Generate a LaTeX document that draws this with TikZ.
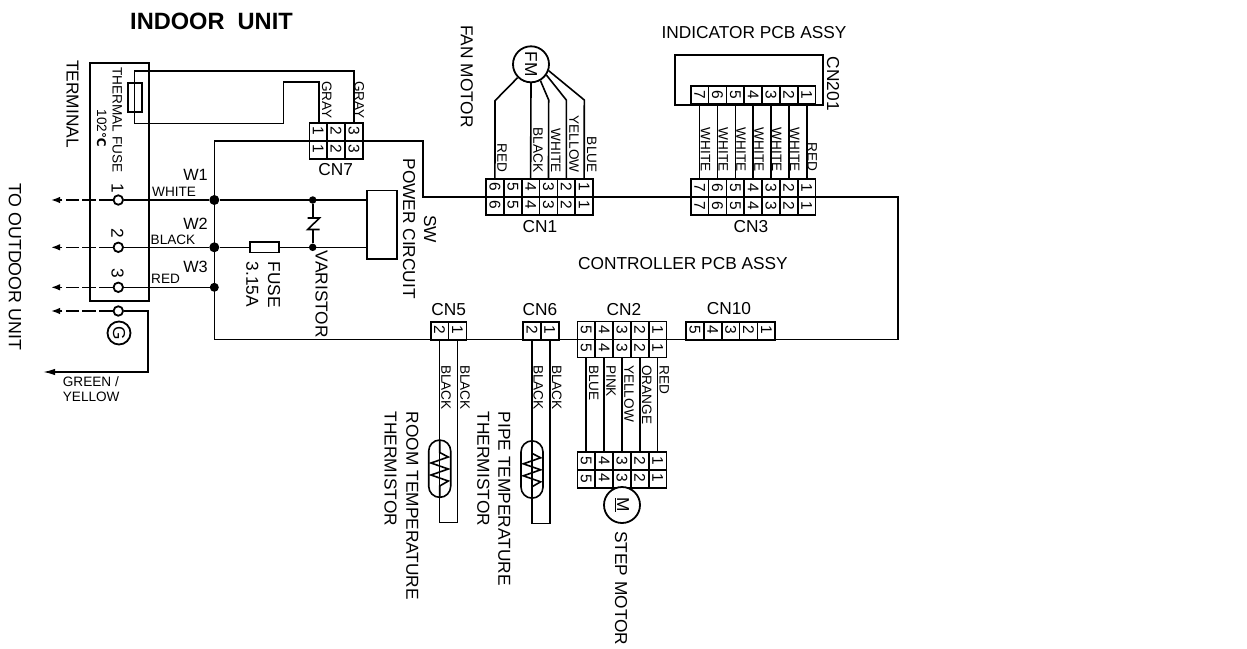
\documentclass[tikz,border=0pt]{standalone}
\usepackage{graphicx}
\usepackage{fontspec}
\setmainfont{Liberation Sans}
\newfontfamily\dejavu{DejaVu Sans}
\usetikzlibrary{arrows.meta}
\tikzset{
 wire/.style={line width=1.6pt,line join=miter},
 dashwire/.style={line width=1.6pt,dash pattern=on 13.5pt off 3.3pt,-{Latex[length=9pt,width=6.5pt]}},
 pincell/.style={draw,fill=white,line width=1.6pt,minimum width=17.85pt,minimum height=18pt,inner sep=0pt,font=\fontsize{15.5}{15.5}\selectfont},
 lbl/.style={inner sep=0pt,font=\fontsize{17.3}{17.3}\selectfont},
 lblv/.style={lbl,rotate=-90,anchor=west},
 small/.style={inner sep=0pt,font=\fontsize{13.6}{13.6}\selectfont},
 smallv/.style={small,rotate=-90,anchor=west},
 dot/.style={circle,fill=black,draw=none,minimum size=#1,inner sep=0pt},
 term/.style={circle,draw,fill=white,line width=1.8pt,minimum size=9.5pt,inner sep=0pt},
 ring/.style={circle,draw,fill=white,line width=1.8pt,inner sep=0pt},
 capsule/.style={draw,line width=1.6pt,rounded corners=11pt},
}
\newcommand{\rotd}[1]{\rotatebox[origin=c]{-90}{#1}}
% \pinrow{name}{x of first}{y centre}{list of digits, left to right}
\newcommand{\pinrow}[4]{%
 \foreach \d [count=\i from 0] in {#4}{
  \node[pincell] (#1\d) at ({#2+8.93+17.85*\i},#3) {\rotd{\d}};
 }}
\begin{document}
\begin{tikzpicture}[x=1pt,y=-1pt]
\useasboundingbox (0,0) rectangle (1247,648);
\fill[white] (0,0) rectangle (1247,648);
% titles
\node[inner sep=0pt,anchor=west,font=\fontsize{23.6}{23.6}\selectfont\bfseries] (title) at (130,21) {INDOOR\ \ UNIT};
\node[lblv] (tlTerm) at (72.5,60) {TERMINAL};
\node[lblv,font=\fontsize{17.8}{17.8}\selectfont] (tlOut) at (15,183) {TO OUTDOOR UNIT};
\node[smallv] (tlFuse) at (117.3,67.3) {THERMAL FUSE};
\node[smallv] (tlDeg) at (101.7,109.3) {102{\dejavu\bfseries\fontsize{12}{12}\selectfont ℃}};
% terminal block
\node[draw,line width=1.6pt,minimum width=58.7pt,minimum height=238pt,inner sep=0pt,anchor=north west] (block) at (89.3,62) {};
% board
\coordinate (b1) at (214.3,140.7);
\coordinate (b2) at (422.7,196.8);
\coordinate (b3) at (898,339.5);
\draw[wire] (b1) -| (b2) -- (b2 -| b3) -- (b3) -- (b1 |- b3) -- cycle;
% terminals
\node[term] (t1) at (118.3,200) {};
\node[term] (t2) at (118.3,247.3) {};
\node[term] (t3) at (118.3,287.3) {};
\node[term] (tg) at (118.3,311) {};
\coordinate (o1) at (51,200); \coordinate (o2) at (51,247.3);
\coordinate (o3) at (51,287.3); \coordinate (og) at (51,311);
\draw[dashwire] (t1) -- (o1);
\draw[dashwire] (t2) -- (o2);
\draw[dashwire] (t3) -- (o3);
\draw[dashwire] (tg) -- (og);
\node[ring,minimum size=23pt,lbl] (gnd) at (119,333) {\rotd{G}};
\coordinate (gc) at (148,372); \coordinate (gend) at (43,372);
\draw[wire,-{Latex[length=12pt,width=6.5pt]}] (tg) -| (gc) -- (gend);
\node[dot=10pt] (w1) at (214.3,200) {};
\node[dot=10pt] (w2) at (214.3,247.3) {};
\node[dot=9pt] (w3) at (214.3,287.3) {};
\draw[wire] (t1) -- (w1);
\draw[wire] (t2) -- (w2);
\draw[wire] (t3) -- (w3);
\node[lbl,anchor=east,font=\fontsize{16.3}{16.3}\selectfont] (lw1) at (208,175) {W1};
\node[lbl,anchor=east,font=\fontsize{16.3}{16.3}\selectfont] (lw2) at (208,224) {W2};
\node[lbl,anchor=east,font=\fontsize{16.3}{16.3}\selectfont] (lw3) at (208,266.7) {W3};
\node[small,anchor=west] (lwh) at (152,192) {WHITE};
\node[small,anchor=west] (lbk) at (150.5,240) {BLACK};
\node[small,anchor=west] (lrd) at (151,279.3) {RED};
\node[small,anchor=west] (lgr) at (62.7,381.7) {GREEN /};
\node[small,anchor=west] (lye) at (62.7,396.7) {YELLOW};
\node[lbl,rotate=-90] (n1) at (117.5,188) {1};
\node[lbl,rotate=-90] (n2) at (117.5,233) {2};
\node[lbl,rotate=-90] (n3) at (117.5,273) {3};
% thermal fuse and CN7
\pinrow{ca}{309.3}{131.7}{1,2,3}
\pinrow{cb}{309.3}{149.7}{1,2,3}
\node[lbl] (lcn7) at (335.7,170) {CN7};
\node[smallv] (lg1) at (326.7,81) {GRAY};
\node[smallv] (lg2) at (359.3,81) {GRAY};
\coordinate (f1) at (134.3,71); \coordinate (f2) at (134.3,123.3);
\coordinate (f3) at (283.3,81.7);
\draw[wire] (ca3.north) |- (f1) -- (f2) -| (f3) -| ([xshift=1pt]ca1.north);
\node[draw,line width=1.6pt,minimum width=14pt,minimum height=29pt,inner sep=0pt] (tf) at (134.7,97.2) {};
% power circuit
\node[draw,line width=1.6pt,fill=white,minimum width=30.3pt,minimum height=68.3pt,inner sep=0pt,anchor=north west] (pc) at (366,189.7) {};
\coordinate (pc1) at (366,200); \coordinate (pc2) at (366,247.3);
\draw[wire] (w1) -- (pc1);
\draw[wire] (w2) -- (pc2);
\node[dot=7.5pt] (v1) at (312.7,200) {};
\node[dot=7.5pt] (v2) at (312.7,247.3) {};
\coordinate (va) at (312.7,218); \coordinate (vb) at (312.7,229.5);
\draw[wire] (v1) -- (va);
\draw[wire] (v2) -- (vb);
\draw[wire] (307.7,218) -- (319.5,218) -- (307.7,229.5) -- (319.5,229.5);
\node[draw,line width=1.6pt,fill=white,minimum width=29pt,minimum height=10.3pt,inner sep=0pt] (fuse) at (264.5,247.2) {};
\node[lblv] (lfu) at (274,261.7) {FUSE};
\node[lblv] (l315) at (252.3,261.7) {3.15A};
\node[lblv] (lva) at (321.7,250.7) {VARISTOR};
\node[lblv] (lpc) at (409,158.3) {POWER CIRCUIT};
\node[lblv] (lsw) at (430,215) {SW};
% fan motor and CN1
\node[lblv] (lfan) at (466.7,25) {FAN MOTOR};
\node[ring,minimum size=36pt,lbl] (fm) at (531,64.3) {\rotd{FM}};
\pinrow{na}{486}{187.7}{6,5,4,3,2,1}
\pinrow{nb}{486}{205.7}{6,5,4,3,2,1}
\draw[wire] (na6.north) -- (495,100.7) -- (fm.225);
\draw[wire] (na4.north) -- (fm.south);
\draw[wire] (na3.north) -- (548.7,100) -- (fm.300);
\draw[wire] (na2.north) -- (566.3,100) -- (fm.325);
\draw[wire] (na1.north) -- (584.3,100) -- (fm.340);
\node[small,rotate=-90,anchor=east] (c1) at (502,172.7) {RED};
\node[small,rotate=-90,anchor=east] (c2) at (538,172.7) {BLACK};
\node[small,rotate=-90,anchor=east] (c3) at (555.7,172.7) {WHITE};
\node[small,rotate=-90,anchor=east] (c4) at (574,172.7) {YELLOW};
\node[small,rotate=-90,anchor=east] (c5) at (591.7,172.7) {BLUE};
\node[lbl] (lcn1) at (540,227) {CN1};
% indicator and CN3
\node[lbl] (lind) at (754,33) {INDICATOR PCB ASSY};
\node[draw,line width=1.6pt,minimum width=148.3pt,minimum height=49.7pt,inner sep=0pt,anchor=north west] (ind) at (674,54.3) {};
\node[lblv] (l201) at (833,56.7) {CN201};
\pinrow{ia}{690.7}{95}{7,6,5,4,3,2,1}
\pinrow{ta}{690.7}{188}{7,6,5,4,3,2,1}
\pinrow{tb}{690.7}{206}{7,6,5,4,3,2,1}
\foreach \d in {7,6,5,4,3,2,1}{\draw[wire] (ia\d.south) -- (ta\d.north);}
\foreach \d in {7,6,5,4,3,2}{\node[small,rotate=-90,anchor=east] (w\d lab) at ([xshift=5.8pt]ta\d.north |- 0,171.7) {WHITE};}
\node[small,rotate=-90,anchor=east] (rlab) at (812.3,171.7) {RED};
\node[lbl] (lcn3) at (751,227) {CN3};
\node[lbl] (lctl) at (683,264) {CONTROLLER PCB ASSY};
% CN5
\node[lbl] (lcn5) at (448.7,309.3) {CN5};
\pinrow{e}{430.7}{330.7}{2,1}
\coordinate (eb) at (439.7,522.3);
\draw[wire] (e2.south) -- (e2.south |- eb) -| (e1.south);
\node[smallv] (e2l) at (446,365) {BLACK};
\node[smallv] (e1l) at (465,365) {BLACK};
\node[capsule,minimum width=22pt,minimum height=57.3pt,inner sep=0pt] (th1) at (439.7,468.7) {};
\draw[wire] (439.7,440) -- (439.7,452.5) -- (448.3,457) -- (431,463) -- (448.3,469) -- (431,475) -- (448.3,481) -- (439.7,486) -- (439.7,497.3);
\node[lblv] (lrt) at (412.3,411.7) {ROOM TEMPERATURE};
\node[lblv] (lrt2) at (390.7,411.7) {THERMISTOR};
% CN6
\node[lbl] (lcn6) at (540,309.3) {CN6};
\pinrow{g}{523}{330.7}{2,1}
\coordinate (gb) at (532,523.3);
\draw[wire] (g2.south) -- (g2.south |- gb) -| (g1.south);
\node[smallv] (g2l) at (538.3,365) {BLACK};
\node[smallv] (g1l) at (556.7,365) {BLACK};
\node[capsule,minimum width=22pt,minimum height=57.3pt,inner sep=0pt] (th2) at (532,469.5) {};
\draw[wire] (532,441) -- (532,453.3) -- (540.6,457.8) -- (523.3,463.8) -- (540.6,469.8) -- (523.3,475.8) -- (540.6,481.8) -- (532,486.8) -- (532,498);
\node[lblv] (lpt) at (504.3,411.7) {PIPE TEMPERATURE};
\node[lblv] (lpt2) at (483.3,411.7) {THERMISTOR};
% CN2
\node[lbl] (lcn2) at (624,309.3) {CN2};
\pinrow{ba}{577.3}{330.5}{5,4,3,2,1}
\pinrow{bb}{577.3}{348.4}{5,4,3,2,1}
\pinrow{da}{577.3}{461}{5,4,3,2,1}
\pinrow{db}{577.3}{478.8}{5,4,3,2,1}
\foreach \d in {5,4,3,2,1}{\draw[wire] (bb\d.south) -- (da\d.north);}
\node[small,rotate=-90,anchor=west] (p5) at (593.7,365) {BLUE};
\node[small,rotate=-90,anchor=west] (p4) at (611,365) {PINK};
\node[small,rotate=-90,anchor=west] (p3) at (629,365) {YELLOW};
\node[small,rotate=-90,anchor=west] (p2) at (646.7,365) {ORANGE};
\node[small,rotate=-90,anchor=west] (p1) at (664.3,365) {RED};
\node[ring,minimum size=36pt,lbl] (mot) at (622,505) {\rotd{\underline{M}}};
\node[lblv] (lstep) at (621,531) {STEP MOTOR};
% CN10
\node[lbl] (lcn10) at (729,309) {CN10};
\pinrow{k}{686}{330.7}{5,4,3,2,1}
\end{tikzpicture}
\end{document}
